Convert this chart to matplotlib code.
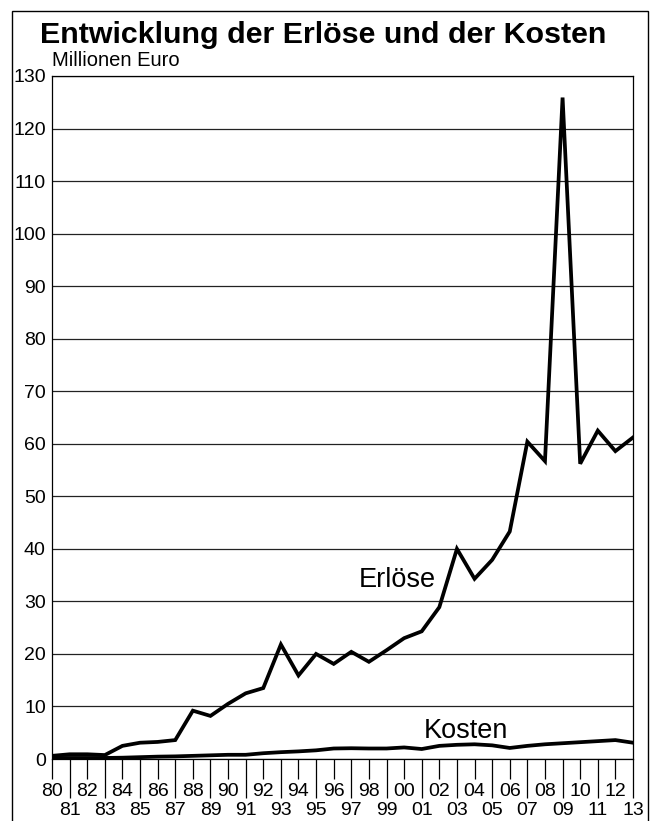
import matplotlib
matplotlib.use("Agg")
from matplotlib import pyplot as plt
from matplotlib.patches import Rectangle
import numpy as np

plt.rcParams['font.family'] = ['Liberation Sans', 'DejaVu Sans']

years = list(range(1980, 2014))
erloese = [0.6, 0.9, 0.9, 0.75, 2.5, 3.1, 3.25, 3.6, 9.2, 8.2, 10.5, 12.5, 13.5, 21.8,
           15.9, 20.0, 18.1, 20.4, 18.5, 20.7, 23.0, 24.3, 28.9, 40.0, 34.3, 37.9, 43.3,
           60.4, 56.7, 125.9, 56.2, 62.5, 58.6, 61.2]
kosten = [0.2, 0.2, 0.2, 0.2, 0.25, 0.35, 0.45, 0.5, 0.6, 0.7, 0.8, 0.8, 1.1, 1.3,
          1.45, 1.65, 2.0, 2.05, 2.0, 2.0, 2.2, 1.9, 2.5, 2.7, 2.8, 2.6, 2.1, 2.5,
          2.8, 3.0, 3.2, 3.4, 3.6, 3.1]
y_ticks = list(range(0, 131, 10))

W, H = 651, 821
fig = plt.figure(figsize=(W / 100, H / 100), dpi=100)
ax = fig.add_axes([52 / W, 62 / H, (633 - 52) / W, (759 - 76) / H])

ax.plot(years, erloese, color='black', lw=2.7, solid_joinstyle='miter', zorder=3)
ax.plot(years, kosten, color='black', lw=2.7, solid_joinstyle='miter', zorder=3)

ax.set_xlim(1980, 2013)
ax.set_ylim(0, 130)
ax.set_yticks(y_ticks)
ax.set_yticklabels([str(v) for v in y_ticks])
ax.grid(axis='y', color='#222222', lw=0.9)
ax.tick_params(axis='y', length=0, pad=4.5, labelsize=14)

even = [y for y in years if y % 2 == 0]
odd = [y for y in years if y % 2 == 1]
ax.set_xticks(even)
ax.set_xticklabels(['%02d' % (y % 100) for y in even])
ax.set_xticks(odd, minor=True)
ax.set_xticklabels(['%02d' % (y % 100) for y in odd], minor=True)
ax.tick_params(axis='x', which='major', direction='out', length=14.4, width=0.9,
               pad=2.6, labelsize=14)
ax.tick_params(axis='x', which='minor', direction='out', length=28.0, width=0.9,
               pad=2.6, labelsize=14)

for s in ax.spines.values():
    s.set_linewidth(0.9)

ax.text(1997.4, 32.8, 'Erlöse', fontsize=19.5, va='baseline', ha='left')
ax.text(2001.1, 4.05, 'Kosten', fontsize=19.5, va='baseline', ha='left')

fig.text(40 / W, 1 - 43 / H, 'Entwicklung der Erlöse und der Kosten', fontsize=21.9,
         fontweight='bold', va='baseline', ha='left')
fig.text(52 / W, 1 - 66 / H, 'Millionen Euro', fontsize=14.5, va='baseline', ha='left')

# outer frame
fig.patches.append(Rectangle((12 / W, -0.05), (648 - 12) / W, 1 - 11 / H + 0.05,
                             transform=fig.transFigure, fill=False, lw=1.0,
                             edgecolor='black'))

fig.savefig('out.png', dpi=100)
